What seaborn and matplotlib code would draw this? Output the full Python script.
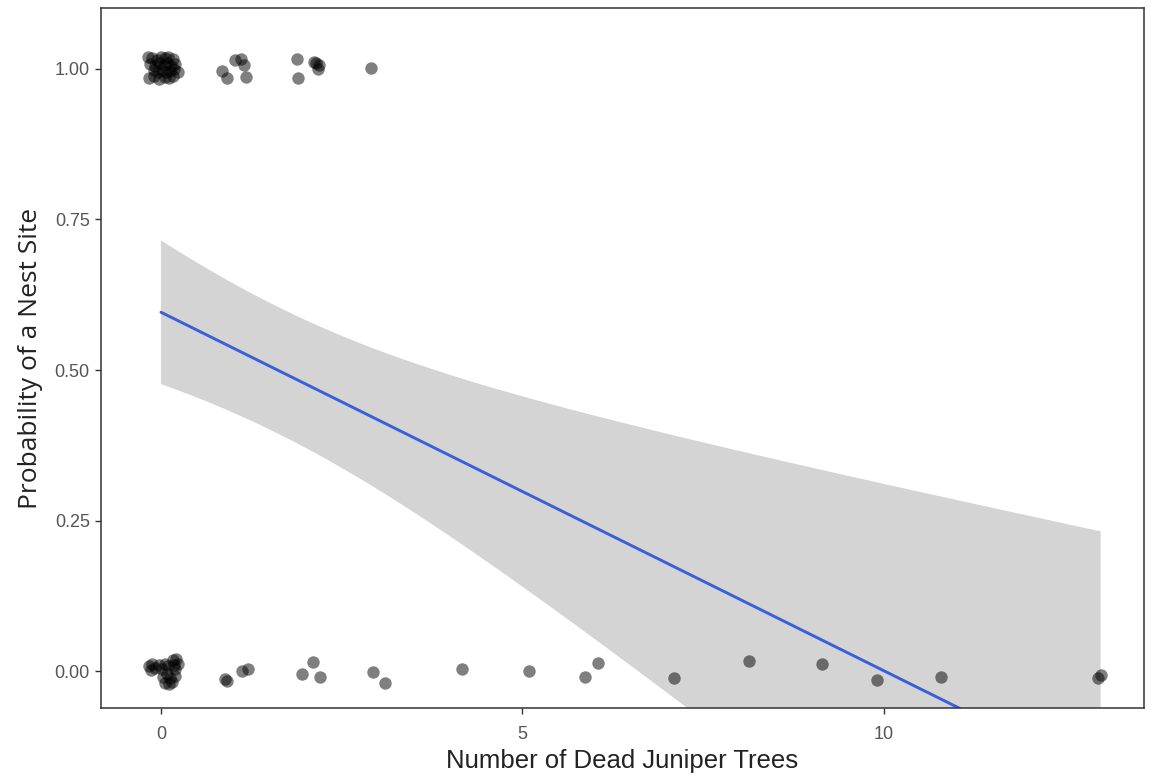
import numpy as np
import pandas as pd
import seaborn as sns
import matplotlib.pyplot as plt

# jittered point positions as they appear in the chart
# nest sites (y ~ 1)
nest_x = [-0.18, -0.12, -0.06, 0.00, 0.05, 0.10, 0.16, -0.15, -0.08, -0.02,
          0.04, 0.09, 0.14, 0.20, -0.10, -0.04, 0.02, 0.07, 0.12, 0.18,
          -0.16, -0.09, -0.02, 0.05, 0.11, 0.17, 0.23,
          0.84, 0.92, 1.03, 1.11, 1.15, 1.17,
          1.88, 1.90, 2.12, 2.19, 2.17, 2.14,
          2.91]
nest_y = [1.020, 1.018, 1.015, 1.020, 1.018, 1.020, 1.016, 1.008, 1.005, 1.010,
          1.006, 1.010, 1.004, 1.008, 0.998, 0.995, 0.998, 0.994, 0.997, 0.999,
          0.985, 0.988, 0.983, 0.986, 0.984, 0.988, 0.995,
          0.997, 0.985, 1.015, 1.017, 1.006, 0.987,
          1.017, 0.985, 1.012, 1.007, 1.000, 1.010,
          1.001]

# non-nest sites (y ~ 0)
other_x = [-0.17, -0.12, -0.08, -0.03, 0.02, -0.14, 0.05, 0.10, 0.17, 0.21,
           0.24, 0.19, 0.08, 0.12, 0.06, 0.15, 0.20, 0.03, 0.11, 0.18,
           0.88, 0.92, 1.12, 1.20,
           1.95, 2.11, 2.20,
           2.94, 3.10,
           4.17, 5.09, 6.04, 5.87, 7.10, 8.13, 9.15, 9.91, 10.79,
           12.97, 13.01]
other_y = [0.008, 0.012, 0.006, 0.010, 0.004, 0.002, 0.012, 0.008, 0.018, 0.020,
           0.012, 0.004, -0.005, -0.012, -0.020, -0.018, -0.008, -0.010, -0.022, 0.010,
           -0.013, -0.017, 0.001, 0.004,
           -0.005, 0.015, -0.010,
           -0.002, -0.020,
           0.003, 0.001, 0.014, -0.009, -0.012, 0.017, 0.012, -0.015, -0.009,
           -0.011, -0.006]

y_ticks = [0.0, 0.25, 0.50, 0.75, 1.00]
x_ticks = [0, 5, 10]

df = pd.DataFrame({"dead": nest_x + other_x, "nest": nest_y + other_y})

# linear fit (like geom_smooth(method="lm")) on the un-jittered values
raw_x = df["dead"].round().to_numpy()
raw_y = df["nest"].round().to_numpy()
slope, intercept = np.polyfit(raw_x, raw_y, 1)
n = len(raw_x)
resid = raw_y - (intercept + slope * raw_x)
sigma = np.sqrt(np.sum(resid ** 2) / (n - 2))
xbar = raw_x.mean()
sxx = np.sum((raw_x - xbar) ** 2)
t_crit = 1.991  # 95%, df = n - 2

grid = np.linspace(raw_x.min(), raw_x.max(), 200)
fit = intercept + slope * grid
se = sigma * np.sqrt(1 / n + (grid - xbar) ** 2 / sxx)

sns.set_theme(style="white")
fig = plt.figure(figsize=(11.51, 7.74), dpi=100)
ax = fig.add_axes([0.0877, 0.0853, 0.9062, 0.9044])

ax.fill_between(grid, fit - t_crit * se, fit + t_crit * se, color="#D4D4D4", lw=0, zorder=1)
sns.lineplot(x=grid, y=fit, color="#3B5FD9", lw=2.1, ax=ax, zorder=2)
sns.scatterplot(data=df, x="dead", y="nest", color="black", alpha=0.5, s=80,
                linewidth=0, ax=ax, zorder=3)

ax.set_xlim(-0.83, 13.6)
ax.set_ylim(-0.061, 1.101)
ax.set_xticks(x_ticks)
ax.set_yticks(y_ticks)
ax.set_yticklabels([f"{v:.2f}" for v in y_ticks])

for s in ax.spines.values():
    s.set_visible(True)
    s.set_color("#333333")
    s.set_linewidth(1.1)
ax.tick_params(length=4, width=1, color="#333333", labelcolor="#555555",
               labelsize=13, left=True, bottom=True)
ax.tick_params(axis="x", pad=9)
ax.tick_params(axis="y", pad=4)
for lab in ax.get_xticklabels() + ax.get_yticklabels():
    lab.set_family(["Liberation Sans", "DejaVu Sans"])

ax.set_xlabel("Number of Dead Juniper Trees", fontsize=18.5, color="#222222",
              family=["Liberation Sans", "DejaVu Sans"], labelpad=4)
ax.set_ylabel("Probability of a Nest Site", fontsize=19, color="#222222",
              family=["Open Sans", "DejaVu Sans"], labelpad=8)

fig.savefig("out.png", dpi=100)
